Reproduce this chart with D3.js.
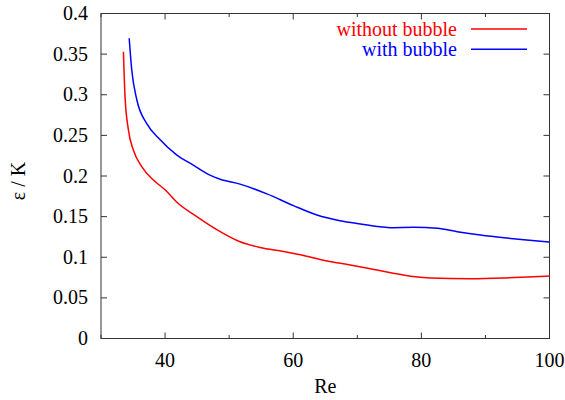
<!DOCTYPE html>
<html>
<head>
<meta charset="utf-8">
<script src="https://cdn.jsdelivr.net/npm/d3@7"></script>
<style>
  body { margin: 0; background: #fff; }
</style>
</head>
<body>
<svg id="chart" width="565" height="400"></svg>
<script>
// ---- data ----
const reRed = [33.5, 33.75, 34.27, 35.05, 36.36, 38.17, 40, 41.8, 44.95, 48.6, 51.7, 54.8, 58.5, 61.1, 65.3, 68.9, 72.0, 75.2, 78.3, 81.4, 87.7, 92.9, 96.5, 100];
const epsRed = [0.353, 0.298, 0.257, 0.232, 0.2115, 0.195, 0.183, 0.168, 0.150, 0.1315, 0.119, 0.112, 0.107, 0.103, 0.0954, 0.0905, 0.0859, 0.081, 0.0765, 0.0745, 0.0736, 0.0745, 0.0757, 0.0769];
const reBlue = [34.4, 34.8, 35.6, 37.1, 39.2, 41.8, 44.4, 47.0, 48.6, 51.7, 55.9, 60.05, 63.7, 67.3, 70.5, 73.6, 75.2, 78.8, 82.5, 85.6, 89.2, 92.9, 96.0, 100];
const epsBlue = [0.3695, 0.3305, 0.2935, 0.265, 0.245, 0.226, 0.2135, 0.201, 0.196, 0.19, 0.178, 0.1635, 0.152, 0.145, 0.141, 0.1376, 0.1364, 0.1368, 0.1356, 0.1315, 0.1274, 0.124, 0.1216, 0.1188];
const seriesNames = ["without bubble", "with bubble"];
const seriesColors = ["#ff0000", "#0000ff"];
const xMajorTicks = [40, 60, 80, 100];
const xMinorTicks = [30, 50, 70, 90];
const yTicks = [0, 0.05, 0.1, 0.15, 0.2, 0.25, 0.3, 0.35, 0.4];
const xLabel = "Re";
const yLabel = "ε / K";

// ---- layout ----
const FONT = '"Liberation Serif", "Times New Roman", Tinos, serif';
const svg = d3.select("#chart");
const L = 101, R = 549.5, T = 13.5, B = 338.5;
const x = d3.scaleLinear().domain([30, 100]).range([L, R]);
const y = d3.scaleLinear().domain([0, 0.4]).range([B, T]);
const axisColor = "#333";
const fs = 20;

svg.append("rect").attr("x", L).attr("y", T).attr("width", R - L).attr("height", B - T)
  .attr("fill", "none").attr("stroke", axisColor).attr("stroke-width", 1);

const g = svg.append("g");
function xt(v, len) {
  g.append("line").attr("x1", x(v)).attr("x2", x(v)).attr("y1", B).attr("y2", B - len).attr("stroke", axisColor);
  g.append("line").attr("x1", x(v)).attr("x2", x(v)).attr("y1", T).attr("y2", T + len).attr("stroke", axisColor);
}
xMajorTicks.forEach(v => xt(v, 6));
xMinorTicks.forEach(v => xt(v, 3.5));
xMajorTicks.forEach(v => {
  g.append("text").attr("x", x(v)).attr("y", 367).attr("text-anchor", "middle")
    .style("font-family", FONT).attr("font-size", fs).attr("fill", "#000").text(v);
});
yTicks.forEach(v => {
  g.append("line").attr("x1", L).attr("x2", L + 6).attr("y1", y(v)).attr("y2", y(v)).attr("stroke", axisColor);
  g.append("line").attr("x1", R).attr("x2", R - 6).attr("y1", y(v)).attr("y2", y(v)).attr("stroke", axisColor);
  g.append("text").attr("x", 88).attr("y", y(v)).attr("dy", "0.33em").attr("text-anchor", "end")
    .style("font-family", FONT).attr("font-size", fs).attr("fill", "#000").text(d3.format("")(v));
});

svg.append("text").attr("x", (L + R) / 2).attr("y", 393).attr("text-anchor", "middle")
  .style("font-family", FONT).attr("font-size", fs).text(xLabel);
svg.append("text").attr("transform", `translate(25,${(T + B) / 2 + 5}) rotate(-90)`)
  .attr("text-anchor", "middle").style("font-family", FONT).attr("font-size", fs).text(yLabel);

const line = d3.line().x(d => x(d[0])).y(d => y(d[1])).curve(d3.curveMonotoneX);
const red = reRed.map((r, i) => [r, epsRed[i]]);
const blue = reBlue.map((r, i) => [r, epsBlue[i]]);
[red, blue].forEach((s, i) => {
  svg.append("path").datum(s).attr("d", line).attr("fill", "none")
    .attr("stroke", seriesColors[i]).attr("stroke-width", 1.5);
});

seriesNames.forEach((n, i) => {
  const ly = 29 + i * 20.3;
  svg.append("text").attr("x", 457).attr("y", ly + 7).attr("text-anchor", "end")
    .style("font-family", FONT).attr("font-size", fs).attr("fill", seriesColors[i]).text(n);
  svg.append("line").attr("x1", 471).attr("x2", 527).attr("y1", ly).attr("y2", ly)
    .attr("stroke", seriesColors[i]).attr("stroke-width", 1.5);
});
</script>
</body>
</html>
